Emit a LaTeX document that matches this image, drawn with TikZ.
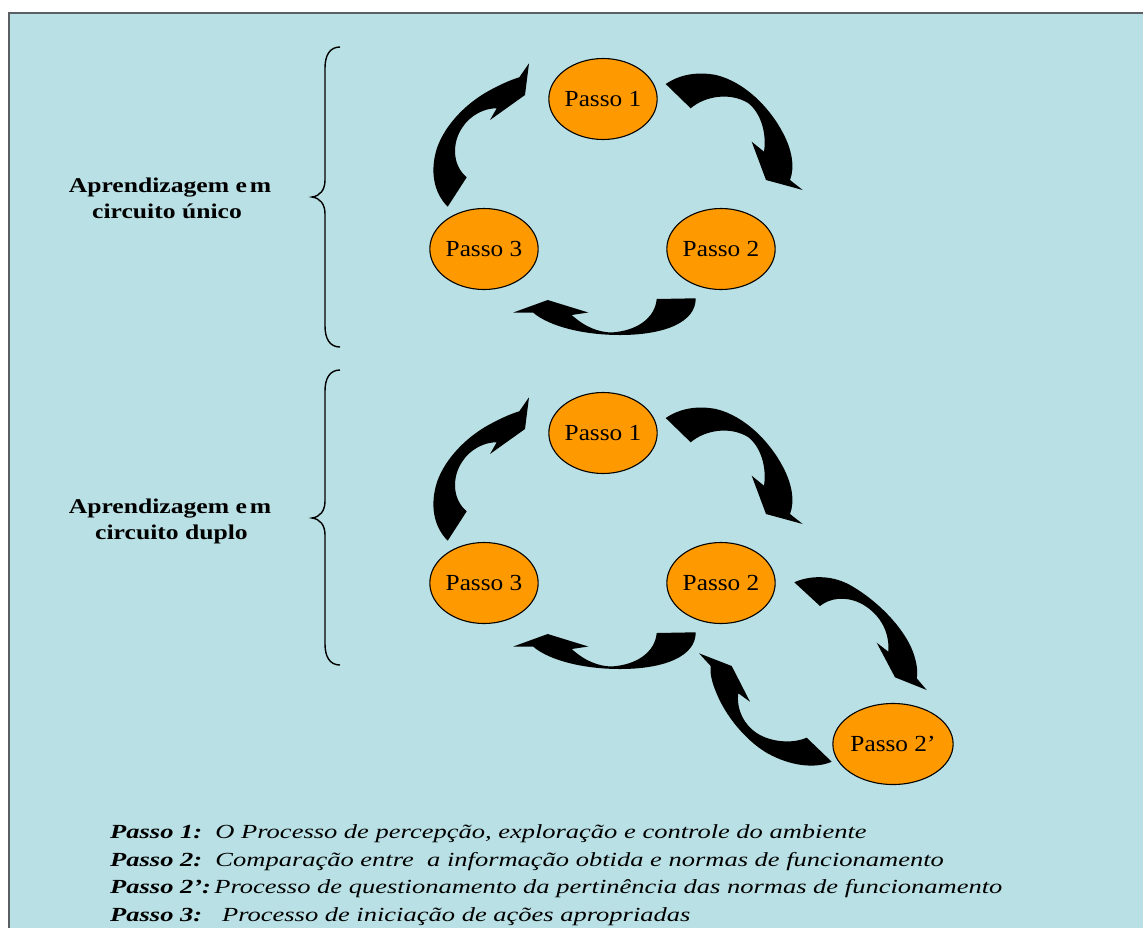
\documentclass[tikz,border=0pt]{standalone}
\usepackage{fontspec}
\setmainfont{Liberation Serif}
\newfontfamily\ellfont[FakeStretch=1.1]{Liberation Serif}
\newfontfamily\labfont[FakeStretch=1.22]{Liberation Serif}
\newfontfamily\legfont[FakeStretch=1.325]{Liberation Serif}
\usetikzlibrary{shapes.geometric}
\definecolor{bgblue}{RGB}{185,224,228}
\definecolor{framegray}{RGB}{90,96,100}
\definecolor{stepor}{RGB}{255,153,0}
\begin{document}
\begin{tikzpicture}[x=1pt,y=-1pt,
  stepell/.style={ellipse, draw=black, line width=1.1pt, fill=stepor, minimum width=106pt, minimum height=81pt, inner sep=0pt, font=\ellfont\fontsize{23}{27}\selectfont},
  blockarrow/.style={fill=black},
  bracepath/.style={draw=black, line width=1.4pt},
  labeltext/.style={font=\labfont\bfseries\fontsize{21}{25}\selectfont, anchor=base, inner sep=0pt},
  legendtext/.style={font=\legfont\itshape\fontsize{20}{24}\selectfont, anchor=base west, inner sep=0pt}]
\useasboundingbox (0,0) rectangle (1143,927);
\fill[bgblue] (9,13) rectangle (1150,935);
\draw[framegray, line width=1.4pt] (9,935) -- (9,13) -- (1150,13);

% braces
\draw[bracepath] (340,47) .. controls (330,47) and (325,55) .. (325,68) -- (325,180) .. controls (325,190) and (320,196) .. (312,197) .. controls (320,198) and (325,204) .. (325,214) -- (325,326) .. controls (325,339) and (330,347) .. (340,347);
\draw[bracepath] (340,370) .. controls (330,370) and (325,378) .. (325,391) -- (325,501) .. controls (325,511) and (320,517) .. (312,518) .. controls (320,519) and (325,525) .. (325,535) -- (325,644) .. controls (325,657) and (330,665) .. (340,665);

% labels
\node[labeltext] (lab1a) at (170,192.7) {Aprendizagem e\kern3pt m};
\node[labeltext] (lab1b) at (167,218.3) {circuito único};
\node[labeltext] (lab2a) at (170,513.7) {Aprendizagem e\kern3pt m};
\node[labeltext] (lab2b) at (171.5,539.3) {circuito duplo};

% arrows, single loop and double loop (shifted copy)
\foreach \dy in {0,334} {
\begin{scope}[shift={(0,\dy)}]
\fill[blockarrow] (665.7,84) .. controls (682,73) and (700,72) .. (716,75) .. controls (745,82) and (770,108) .. (783,133) .. controls (792,150) and (795,167) .. (790,180) -- (802.7,190) -- (766,180) -- (751.7,141.7) -- (764,151.7) .. controls (767,132) and (760,112) .. (748,103) .. controls (730,92) and (705,96) .. (690.7,108.3) -- cycle;
\fill[blockarrow] (447.7,206.7) .. controls (433,192) and (430,170) .. (437,148) .. controls (445,125) and (465,105) .. (485,93) .. controls (497,86) and (510,80) .. (519.3,77.3) -- (529,63.3) -- (525,95) -- (490,120) -- (496.7,108.3) .. controls (485,108) and (470,115) .. (462,128) .. controls (452,143) and (452,165) .. (466.7,177.3) -- cycle;
\fill[blockarrow] (656.7,299) -- (695.7,298.3) .. controls (696,322) and (665,335) .. (620,335) .. controls (585,335) and (550,327) .. (533,312.5) -- (513.3,312.5) -- (547.7,300) -- (588.3,312.5) -- (571.7,315) .. controls (585,327) and (598,332) .. (611,332.5) .. controls (637,331) and (655,318) .. (656.7,299) -- cycle;
\end{scope}
}
\fill[blockarrow] (794.3,582.3) .. controls (808,576) and (830,574) .. (850,585) .. controls (880,602) and (905,630) .. (913,652) .. controls (917,663) and (918,672) .. (916.7,678.3) -- (926.7,690) -- (895,677.3) -- (876.7,642.7) -- (888.3,651.7) .. controls (890,630) and (878,612) .. (860,603) .. controls (845,596) and (830,598) .. (820,606) -- cycle;
\fill[blockarrow] (831.7,761.7) .. controls (815,769) and (790,766) .. (767,753) .. controls (745,740) and (725,715) .. (716,692) .. controls (711,680) and (710,672) .. (710.7,666) -- (699,653.3) -- (731.7,666) -- (750,701.7) -- (738.3,693.3) .. controls (736,710) and (745,727) .. (760,735) .. controls (775,743) and (795,743) .. (806.7,737.7) -- cycle;

% steps
\node[stepell] (p1a) at (603,99) {Passo 1};
\node[stepell] (p2a) at (721,249) {Passo 2};
\node[stepell] (p3a) at (484,249) {Passo 3};
\node[stepell] (p1b) at (603,433) {Passo 1};
\node[stepell] (p2b) at (721,583) {Passo 2};
\node[stepell] (p3b) at (484,583) {Passo 3};
\node[stepell] (p2pb) at (893,744) {Passo 2’};

% legend
\node[legendtext] (leg1) at (110,838) {\textbf{Passo 1:}\ \ O Processo de percepção, exploração e controle do ambiente};
\node[legendtext] (leg2) at (110,866) {\textbf{Passo 2:}\ \ Comparação entre\ \ a informação obtida e normas de funcionamento};
\node[legendtext] (leg3) at (110,893) {\textbf{Passo 2’:}\,Processo de questionamento da pertinência das normas de funcionamento};
\node[legendtext] (leg4) at (110,921) {\textbf{Passo 3:}\ \ \ Processo de iniciação de ações apropriadas};
\end{tikzpicture}
\end{document}
